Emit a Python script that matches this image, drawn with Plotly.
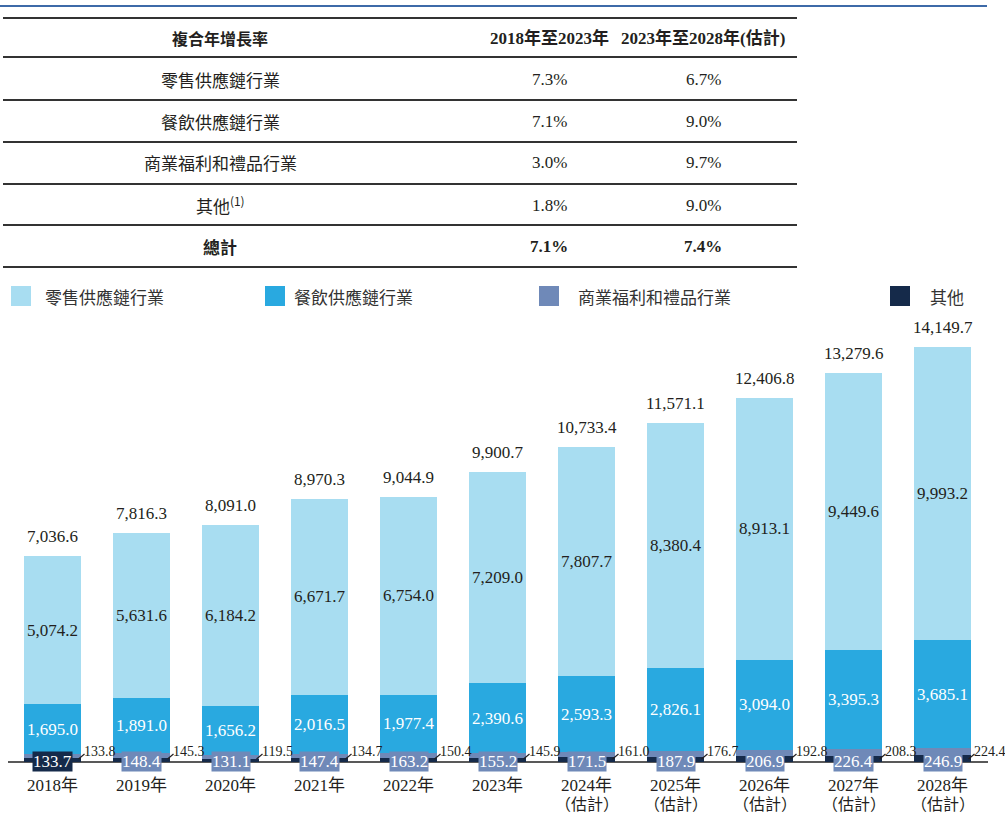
import plotly.graph_objects as go

W, H = 1005, 814

years = ["2018年", "2019年", "2020年", "2021年", "2022年", "2023年",
         "2024年", "2025年", "2026年", "2027年", "2028年"]
estimated = [False, False, False, False, False, False, True, True, True, True, True]
retail = [5074.2, 5631.6, 6184.2, 6671.7, 6754.0, 7209.0, 7807.7, 8380.4, 8913.1, 9449.6, 9993.2]
catering = [1695.0, 1891.0, 1656.2, 2016.5, 1977.4, 2390.6, 2593.3, 2826.1, 3094.0, 3395.3, 3685.1]
welfare = [133.7, 148.4, 131.1, 147.4, 163.2, 155.2, 171.5, 187.9, 206.9, 226.4, 246.9]
others = [133.8, 145.3, 119.5, 134.7, 150.4, 145.9, 161.0, 176.7, 192.8, 208.3, 224.4]
totals = [7036.6, 7816.3, 8091.0, 8970.3, 9044.9, 9900.7, 10733.4, 11571.1, 12406.8, 13279.6, 14149.7]

series_names = ["零售供應鏈行業", "餐飲供應鏈行業", "商業福利和禮品行業", "其他"]
colors = ["#A8DDF1", "#29A9E0", "#6F89B8", "#152A4A"]

table_header = ["複合年增長率", "2018年至2023年", "2023年至2028年(估計)"]
table_rows = ["零售供應鏈行業", "餐飲供應鏈行業", "商業福利和禮品行業", "其他<sup>(1)</sup>", "總計"]
cagr_1823 = ["7.3%", "7.1%", "3.0%", "1.8%", "7.1%"]
cagr_2328 = ["6.7%", "9.0%", "9.7%", "9.0%", "7.4%"]

SERIF = "Liberation Serif, Times New Roman, Noto Sans CJK TC, serif"
CJK = "Noto Sans CJK TC, sans-serif"
TXT = "#231F20"


def px(x):
    return x / W


def py(y):
    return 1 - y / H


# axis geometry
BASE = 762.0
SCALE = 0.02932
TOP_PX = 320.0
cat_w = 89.0
x0_px = 52.5
x_range = [-x0_px / cat_w, (W - x0_px) / cat_w]
y_max = (BASE - TOP_PX) / SCALE

fig = go.Figure()
xs = list(range(len(years)))

for name, vals, col in [(series_names[3], others, colors[3]),
                        (series_names[2], welfare, colors[2]),
                        (series_names[1], catering, colors[1]),
                        (series_names[0], retail, colors[0])]:
    fig.add_trace(go.Bar(x=xs, y=vals, name=name, marker=dict(color=col, line=dict(width=0)),
                         showlegend=False, hoverinfo="skip"))

ann = []
shapes = []


def A(**kw):
    kw.setdefault("showarrow", False)
    kw.setdefault("xanchor", "center")
    kw.setdefault("yanchor", "middle")
    ann.append(kw)


# bar labels
for i in xs:
    base_ret = others[i] + welfare[i] + catering[i]
    A(x=i, y=totals[i], xref="x", yref="y", text=f"{totals[i]:,.1f}",
      yanchor="bottom", yshift=8, font=dict(family=SERIF, size=17, color=TXT))
    A(x=i, y=base_ret + retail[i] / 2, xref="x", yref="y", text=f"{retail[i]:,.1f}",
      font=dict(family=SERIF, size=17, color=TXT))
    cb = others[i] + welfare[i]
    A(x=i, y=cb + catering[i] / 2, xref="x", yref="y", text=f"{catering[i]:,.1f}",
      font=dict(family=SERIF, size=17, color="white"))
    box_col = colors[3] if i == 0 else colors[2]
    A(x=i, y=py(761), xref="x", yref="paper", text=f"{welfare[i]:,.1f}",
      bgcolor=box_col, borderpad=0, font=dict(family=SERIF, size=17, color="white"))
    # others label with leader
    A(x=i + 28.5 / cat_w, y=py(751), xref="x", yref="paper", text=f"{others[i]:,.1f}",
      xanchor="left", xshift=1, font=dict(family=SERIF, size=14, color=TXT))
    shapes.append(dict(type="line", xref="x", yref="paper",
                       x0=i + 26 / cat_w, x1=i + 32 / cat_w, y0=py(759), y1=py(754),
                       line=dict(color=TXT, width=1.2)))
    # x category labels
    A(x=i, y=py(785), xref="x", yref="paper", text=years[i],
      font=dict(family=SERIF, size=17, color=TXT))
    if estimated[i]:
        A(x=i, y=py(804), xref="x", yref="paper", text="（估計）",
          font=dict(family=SERIF, size=16, color=TXT))

# baseline
shapes.append(dict(type="line", xref="paper", yref="paper", x0=px(8), x1=px(988),
                   y0=py(762), y1=py(762), line=dict(color="#222", width=1.5), layer="below"))

# top blue rule
shapes.append(dict(type="line", xref="paper", yref="paper", x0=0, x1=px(987),
                   y0=py(6), y1=py(6), line=dict(color="#3D6AA8", width=2)))

# table rules
for yy in [18, 57, 100, 142, 184, 225, 267]:
    shapes.append(dict(type="line", xref="paper", yref="paper", x0=px(3), x1=px(797),
                       y0=py(yy), y1=py(yy), line=dict(color="#333", width=2)))

# table header
A(x=px(220), y=py(38), xref="paper", yref="paper", text="<b>" + table_header[0] + "</b>",
  font=dict(family=CJK, size=16, color=TXT))
A(x=px(549), y=py(38), xref="paper", yref="paper", text="<b>" + table_header[1] + "</b>",
  font=dict(family=SERIF, size=17, color=TXT))
A(x=px(703), y=py(38), xref="paper", yref="paper", text="<b>" + table_header[2] + "</b>",
  font=dict(family=SERIF, size=17, color=TXT))
row_y = [79, 121, 163, 205, 246]
for k, lab in enumerate(table_rows):
    bold = k == len(table_rows) - 1
    t = f"<b>{lab}</b>" if bold else lab
    A(x=px(220), y=py(row_y[k]), xref="paper", yref="paper", text=t,
      font=dict(family=CJK, size=17, color=TXT))
    a = f"<b>{cagr_1823[k]}</b>" if bold else cagr_1823[k]
    b = f"<b>{cagr_2328[k]}</b>" if bold else cagr_2328[k]
    A(x=px(549), y=py(row_y[k]), xref="paper", yref="paper", text=a,
      font=dict(family=SERIF, size=17, color=TXT))
    A(x=px(703), y=py(row_y[k]), xref="paper", yref="paper", text=b,
      font=dict(family=SERIF, size=17, color=TXT))

# legend
leg_sq = [11, 265, 539, 890]
leg_tx = [43, 292, 576, 928]
for k in range(4):
    shapes.append(dict(type="rect", xref="paper", yref="paper", x0=px(leg_sq[k]), x1=px(leg_sq[k] + 20),
                       y0=py(306), y1=py(286), fillcolor=colors[k], line=dict(width=0)))
    A(x=px(leg_tx[k]), y=py(296), xref="paper", yref="paper", text=series_names[k],
      xanchor="left", font=dict(family=CJK, size=17, color="#333"))

fig.update_layout(
    width=W, height=H, margin=dict(l=0, r=0, t=0, b=0),
    paper_bgcolor="white", plot_bgcolor="white",
    barmode="stack", bargap=0.36,
    xaxis=dict(range=x_range, showticklabels=False, showgrid=False, zeroline=False,
               showline=False, ticks="", fixedrange=True),
    yaxis=dict(range=[0, y_max], domain=[py(BASE), py(TOP_PX)], showticklabels=False,
               showgrid=False, zeroline=False, showline=False, ticks="", fixedrange=True),
    annotations=ann, shapes=shapes, showlegend=False,
)

fig.write_html("out.html", config={"displayModeBar": False},
               post_script="document.body.style.margin='0';document.body.style.overflow='hidden';")
